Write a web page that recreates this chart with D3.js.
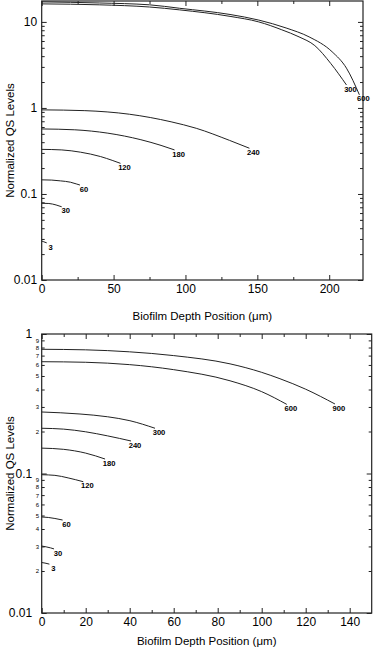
<!DOCTYPE html>
<html><head><meta charset="utf-8">
<script src="https://cdn.jsdelivr.net/npm/d3@7"></script>
<style>
html,body{margin:0;padding:0;background:#fff;}
svg{display:block;font-family:"Liberation Sans",Arial,sans-serif;}
</style></head><body>
<svg id="c" width="373" height="648"></svg>
<script>
// ---------- data: top panel ----------
const topLabels = ["3","30","60","120","180","240","300","600"];
const topDepths = [
  [0,1.5,3.5],
  [0,5,10,13.9],
  [0,7,13,20,24,26.6],
  [0,14,27,41,49,54.8],
  [0,23,46,69,83,92.4],
  [0,30,61,90,107.5,130.6,144.5],
  [0,40,75,96,131,151,167,179,190,201,212],
  [0,40,75,96,131,151,170,186,202,212,221]
];
const topLevels = [
  [0.0284,0.0278,0.027],
  [0.078,0.0775,0.0745,0.071],
  [0.146,0.145,0.142,0.137,0.131,0.127],
  [0.33,0.325,0.306,0.272,0.246,0.227],
  [0.57,0.557,0.509,0.427,0.367,0.325],
  [0.95,0.93,0.845,0.69,0.58,0.42,0.34],
  [16.2,15.8,14.9,13.8,11.6,10.0,8.1,6.7,5.3,3.3,1.85],
  [17.1,16.6,15.8,14.4,12.2,10.5,8.5,6.7,4.5,2.9,1.42]
];
const topXTicks = [0,50,100,150,200];
const topXMinor = [25,75,125,175,225];
const topYTicks = [0.01,0.1,1,10];
const topYTickLabels = ["0.01","0.1","1","10"];

// ---------- data: bottom panel ----------
const bottomLabels = ["3","30","60","120","180","240","300","600","900"];
const bottomDepths = [
  [0,1.5,3.5],
  [0,2,4,5.6],
  [0,3,6,9.5],
  [0,6,12,18.9],
  [0,10,20,28.8],
  [0,10,20,30,40.6],
  [0,17.4,30,40.1,51.5],
  [0,20,40,60,85.6,100,111.4],
  [0,20,40,60,85.6,100,108.3,120,133.3]
];
const bottomLevels = [
  [0.023,0.0228,0.0224],
  [0.0302,0.0298,0.0293,0.0288],
  [0.0488,0.0484,0.0476,0.0464],
  [0.098,0.097,0.093,0.0873],
  [0.152,0.149,0.140,0.127],
  [0.211,0.208,0.199,0.186,0.171],
  [0.276,0.267,0.255,0.239,0.211],
  [0.633,0.627,0.603,0.555,0.462,0.386,0.313],
  [0.777,0.770,0.745,0.700,0.611,0.531,0.478,0.402,0.315]
];
const bottomXTicks = [0,20,40,60,80,100,120,140];
const bottomXMinor = [10,30,50,70,90,110,130,150];
const bottomYTicks = [0.01,0.1,1];
const bottomYTickLabels = ["0.01","0.1","1"];
const bottomYMinorLabels = ["2","3","4","5","6","7","8","9"];

const xTitle = "Biofilm Depth Position (\u03bcm)";
const yTitle = "Normalized QS Levels";

const svg = d3.select("#c");
const INK = "#222";

function panel(o){
  const g = svg.append("g");
  const x = d3.scaleLinear().domain(o.xDomain).range([o.left,o.right]);
  const y = d3.scaleLog().domain(o.yDomain).range([o.bottom,o.top]);
  const yMinor = [];
  for (let e=-2;e<=1;e++) for (let m=2;m<=9;m++){ const v=m*Math.pow(10,e); if(v>o.yDomain[0]&&v<o.yDomain[1]) yMinor.push(v); }

  function style(sel){ sel.select(".domain").remove(); sel.selectAll("line").attr("stroke",INK).attr("stroke-width",1); sel.selectAll("text").attr("fill","#000").attr("font-family",'"Liberation Sans",Arial,sans-serif'); }

  // x major & minor, bottom and top
  g.append("g").attr("transform",`translate(0,${o.bottom})`)
    .call(d3.axisBottom(x).tickValues(o.xTicks).tickSize(-5).tickPadding(4).tickFormat(d3.format("d")))
    .call(style).selectAll("text").attr("font-size",12);
  g.append("g").attr("transform",`translate(0,${o.bottom})`)
    .call(d3.axisBottom(x).tickValues(o.xMinor.filter(v=>v<o.xDomain[1])).tickSize(-3).tickFormat("")).call(style);
  g.append("g").attr("transform",`translate(0,${o.top})`)
    .call(d3.axisTop(x).tickValues(o.xTicks).tickSize(-5).tickFormat("")).call(style);
  g.append("g").attr("transform",`translate(0,${o.top})`)
    .call(d3.axisTop(x).tickValues(o.xMinor.filter(v=>v<o.xDomain[1])).tickSize(-3).tickFormat("")).call(style);

  // y major & minor, left and right
  g.append("g").attr("transform",`translate(${o.left},0)`)
    .call(d3.axisLeft(y).tickValues(o.yTicks).tickSize(-5).tickPadding(o.yPad).tickFormat((d,i)=>o.yTickLabels[i]))
    .call(style).selectAll("text").attr("font-size",12);
  const ml = g.append("g").attr("transform",`translate(${o.left},0)`)
    .call(d3.axisLeft(y).tickValues(yMinor).tickSize(-3).tickPadding(2.5)
      .tickFormat(d=> o.minorLabels ? o.minorLabels[Math.round(d/Math.pow(10,Math.floor(Math.log10(d)+1e-9)))-2] : ""))
    .call(style);
  ml.selectAll("text").attr("font-size",6);
  g.append("g").attr("transform",`translate(${o.right},0)`)
    .call(d3.axisRight(y).tickValues(o.yTicks).tickSize(-5).tickFormat("")).call(style);
  g.append("g").attr("transform",`translate(${o.right},0)`)
    .call(d3.axisRight(y).tickValues(yMinor).tickSize(-3).tickFormat("")).call(style);

  // frame
  g.append("rect").attr("x",o.left).attr("y",o.top).attr("width",o.right-o.left).attr("height",o.bottom-o.top)
    .attr("fill","none").attr("stroke",INK).attr("stroke-width",1.2);

  // curves
  const line = d3.line().x(d=>x(d[0])).y(d=>y(d[1])).curve(d3.curveMonotoneX);
  o.depths.forEach((xs,i)=>{
    const pts = xs.map((v,j)=>[v,o.levels[i][j]]);
    g.append("path").attr("d",line(pts)).attr("fill","none").attr("stroke",INK).attr("stroke-width",1);
    const last = pts[pts.length-1];
    g.append("text").attr("x",x(last[0])+4).attr("y",y(last[1])+4).attr("dy","0.35em")
      .attr("text-anchor","middle").attr("font-size",7.6).attr("font-weight","bold").attr("fill","#000")
      .text(o.labels[i]);
  });

  // titles
  g.append("text").attr("x",(o.left+o.right)/2).attr("y",o.bottom+o.titleGap).attr("text-anchor","middle")
    .attr("font-size",11.5).attr("fill","#000").text(xTitle);
  g.append("text").attr("transform",`translate(14,${(o.top+o.bottom)/2}) rotate(-90)`).attr("text-anchor","middle")
    .attr("font-size",11.5).attr("fill","#000").text(yTitle);
}

panel({left:41.7,right:363,top:1,bottom:280,xDomain:[0,223.5],yDomain:[0.01,17.5],titleGap:40,
  xTicks:topXTicks,xMinor:topXMinor,yTicks:topYTicks,yTickLabels:topYTickLabels,yPad:4.5,
  labels:topLabels,depths:topDepths,levels:topLevels});
panel({left:41.7,right:371.7,top:334,bottom:613,xDomain:[0,150],yDomain:[0.01,1],titleGap:32,
  xTicks:bottomXTicks,xMinor:bottomXMinor,yTicks:bottomYTicks,yTickLabels:bottomYTickLabels,yPad:9.5,
  minorLabels:bottomYMinorLabels,labels:bottomLabels,depths:bottomDepths,levels:bottomLevels});
</script></body></html>
